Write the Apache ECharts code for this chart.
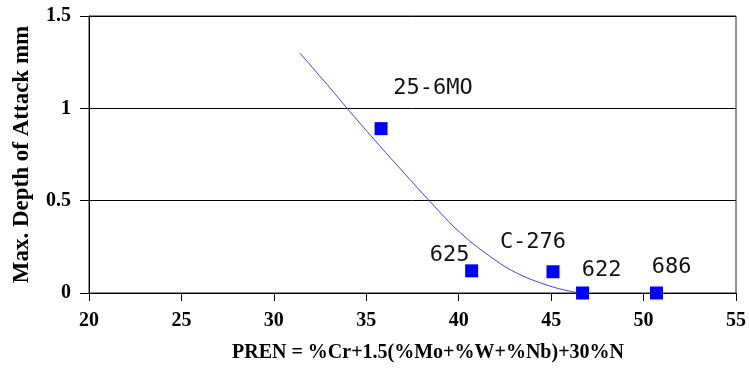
<!DOCTYPE html>
<html>
<head>
<meta charset="utf-8">
<script src="https://cdn.jsdelivr.net/npm/echarts@6/dist/echarts.min.js"></script>
<style>html,body{margin:0;padding:0;background:#fff}#c{width:749px;height:378px}</style>
</head>
<body>
<div id="c"></div>
<script>
// Data
var alloyNames = ['25-6MO', '625', 'C-276', '622', '686'];
var alloyPREN = [35.8, 40.7, 45.1, 46.7, 50.7];
var alloyDepth = [0.89, 0.12, 0.115, 0.0, 0.0];

var trendPREN = [31.4, 33.0, 34.05, 35.7, 37.0, 38.45, 40.1, 41.95, 43.2, 44.8, 46.0, 46.7];
var trendDepth = [1.30, 1.115, 0.99, 0.80, 0.655, 0.495, 0.325, 0.18, 0.105, 0.042, 0.01, 0.0];

var xTicks = [20, 25, 30, 35, 40, 45, 50, 55];
var yTicks = [0, 0.5, 1, 1.5];

var xTitle = 'PREN = %Cr+1.5(%Mo+%W+%Nb)+30%N';
var yTitle = 'Max. Depth of Attack mm';

// Layout / style (not data)
var labelOffsets = [[52, -40], [-22, -16], [-20, -29], [19, -23], [15, -26]];

var chart = echarts.init(document.getElementById('c'));
var serifBold = {fontFamily: 'Liberation Serif', fontWeight: 'bold', color: '#000'};

var scatterData = alloyNames.map(function (n, i) {
  return {
    name: n,
    value: [alloyPREN[i], alloyDepth[i]],
    label: {offset: labelOffsets[i]}
  };
});
var trendData = trendPREN.map(function (x, i) { return [x, trendDepth[i]]; });

chart.setOption({
  animation: false,
  backgroundColor: '#fff',
  grid: {left: 89, right: 10, top: 16, bottom: 85, show: true, borderColor: '#222', borderWidth: 1, backgroundColor: 'transparent'},
  xAxis: {
    type: 'value',
    min: xTicks[0], max: xTicks[xTicks.length - 1], interval: 5,
    axisLine: {show: true, onZero: false, lineStyle: {color: '#000', width: 1}},
    axisTick: {show: true, inside: false, length: 8, lineStyle: {color: '#000'}},
    axisLabel: Object.assign({fontSize: 20, margin: 18}, serifBold),
    splitLine: {show: false}
  },
  yAxis: {
    type: 'value',
    min: yTicks[0], max: yTicks[yTicks.length - 1], interval: 0.5,
    name: yTitle,
    nameLocation: 'middle',
    nameRotate: 90,
    nameGap: 55,
    nameTextStyle: Object.assign({fontSize: 23}, serifBold),
    axisLine: {show: true, lineStyle: {color: '#000', width: 1}},
    axisTick: {show: true, inside: false, length: 9, lineStyle: {color: '#000'}},
    axisLabel: Object.assign({fontSize: 20, margin: 18}, serifBold),
    splitLine: {show: true, lineStyle: {color: '#000', width: 1}}
  },
  graphic: [{
    type: 'text',
    x: 428, y: 353,
    style: {
      text: xTitle,
      fontFamily: 'Liberation Serif', fontWeight: 'bold', fontSize: 20,
      fill: '#000', align: 'center', verticalAlign: 'middle'
    }
  }],
  series: [
    {
      type: 'line',
      data: trendData,
      smooth: 0.4,
      showSymbol: false,
      lineStyle: {color: '#4040e0', width: 1},
      z: 2
    },
    {
      type: 'scatter',
      data: scatterData,
      symbol: 'rect',
      symbolSize: 13,
      itemStyle: {color: '#0000ff', opacity: 1},
      label: {
        show: true,
        position: 'inside',
        formatter: function (p) { return p.name; },
        fontFamily: 'DejaVu Sans Mono',
        fontSize: 22,
        color: '#111',
        align: 'center',
        verticalAlign: 'middle'
      },
      z: 3
    }
  ]
});
</script>
</body>
</html>
